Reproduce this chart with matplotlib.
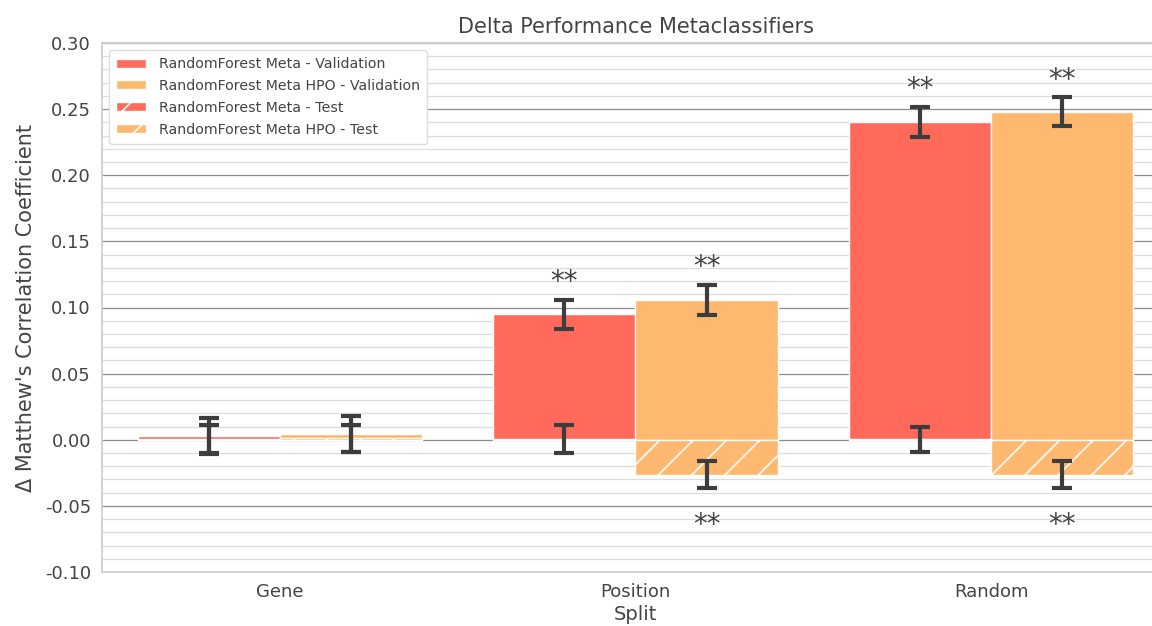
import numpy as np
import matplotlib.pyplot as plt
from matplotlib.patches import Patch
from matplotlib.ticker import MultipleLocator

plt.rcParams['font.family'] = ['DejaVu Sans']
plt.rcParams['hatch.color'] = 'white'
plt.rcParams['hatch.linewidth'] = 1.2

splits = ['Gene', 'Position', 'Random']

# delta MCC per split, validation and test, with error half-widths
rf_val = [0.0028, 0.095, 0.2405]
rf_val_err = [0.0135, 0.011, 0.0113]
rf_test = [0.0005, 0.0008, 0.0004]
rf_test_err = [0.0105, 0.0105, 0.0095]

hpo_val = [0.0042, 0.1055, 0.248]
hpo_val_err = [0.0135, 0.0113, 0.0108]
hpo_test = [0.001, -0.0265, -0.0265]
hpo_test_err = [0.0103, 0.0103, 0.0103]

# split indices carrying a significance marker
stars_rf_val = [1, 2]
stars_hpo_val = [1, 2]
stars_hpo_test = [1, 2]

red = '#ff6a5b'
orange = '#feb86f'
ink = '#444444'

fig = plt.figure(figsize=(11.52, 6.26), dpi=100)
ax = fig.add_axes([102 / 1152, 1 - 572 / 626, (1169 - 102) / 1152, 529 / 626])

x = np.arange(len(splits))
w = 0.4
xr = x - w / 2
xo = x + w / 2

ax.bar(xr, rf_val, w, color=red, edgecolor='white', linewidth=1, zorder=2)
ax.bar(xo, hpo_val, w, color=orange, edgecolor='white', linewidth=1, zorder=2)
ax.bar(xr, rf_test, w, color=red, edgecolor='white', linewidth=1, hatch='/', zorder=2)
ax.bar(xo, hpo_test, w, color=orange, edgecolor='white', linewidth=1, hatch='/', zorder=2)

eb = dict(fmt='none', ecolor='#3d3d3d', elinewidth=3, capsize=7, capthick=3, zorder=3)
ax.errorbar(xr, rf_val, yerr=rf_val_err, **eb)
ax.errorbar(xo, hpo_val, yerr=hpo_val_err, **eb)
ax.errorbar(xr, rf_test, yerr=rf_test_err, **eb)
ax.errorbar(xo, hpo_test, yerr=hpo_test_err, **eb)

star_kw = dict(ha='center', fontsize=20, color=ink, zorder=4)
for i in stars_rf_val:
    ax.text(xr[i], rf_val[i] + rf_val_err[i] + 0.003, '**', va='bottom', **star_kw)
for i in stars_hpo_val:
    ax.text(xo[i], hpo_val[i] + hpo_val_err[i] + 0.003, '**', va='bottom', **star_kw)
for i in stars_hpo_test:
    ax.text(xo[i], hpo_test[i] - hpo_test_err[i] - 0.017, '**', va='top', **star_kw)

ax.set_xlim(-0.5, 2.5)
ax.set_ylim(-0.10, 0.30)
ax.yaxis.set_minor_locator(MultipleLocator(0.01))
yt = np.arange(-0.10, 0.301, 0.05)
ax.set_yticks(yt)
ax.set_yticklabels([f'{v:.2f}' if abs(v) > 1e-9 else '0.00' for v in yt])
ax.grid(axis='y', which='major', color='#8c8c8c', linewidth=0.9, zorder=0)
ax.grid(axis='y', which='minor', color='#dcdcdc', linewidth=0.9, zorder=0)
ax.set_axisbelow(True)
ax.tick_params(axis='both', which='both', length=0, labelsize=13, colors=ink, pad=8)
ax.set_xticks(x)
ax.set_xticklabels(splits)
for s in ax.spines.values():
    s.set_color('#cfcfcf')
    s.set_linewidth(1.3)

ax.set_title('Delta Performance Metaclassifiers', fontsize=15, color=ink, pad=7)
ax.set_xlabel('Split', fontsize=14, color=ink, labelpad=3)
ax.set_ylabel("\u0394 Matthew's Correlation Coefficient", fontsize=15, color=ink, labelpad=6)

handles = [
    Patch(facecolor=red, edgecolor='white', label='RandomForest Meta - Validation'),
    Patch(facecolor=orange, edgecolor='white', label='RandomForest Meta HPO - Validation'),
    Patch(facecolor=red, edgecolor='white', hatch='/', label='RandomForest Meta - Test'),
    Patch(facecolor=orange, edgecolor='white', hatch='/', label='RandomForest Meta HPO - Test'),
]
leg = ax.legend(handles=handles, loc='upper left', bbox_to_anchor=(0.0, 1.0),
                borderaxespad=0.5, fontsize=10.2, labelcolor=ink, handlelength=2.1,
                handleheight=0.6, handletextpad=0.9, labelspacing=0.55, borderpad=0.5,
                framealpha=1, edgecolor='#dddddd')
leg.get_frame().set_linewidth(1)

fig.savefig('out.png', dpi=100)
